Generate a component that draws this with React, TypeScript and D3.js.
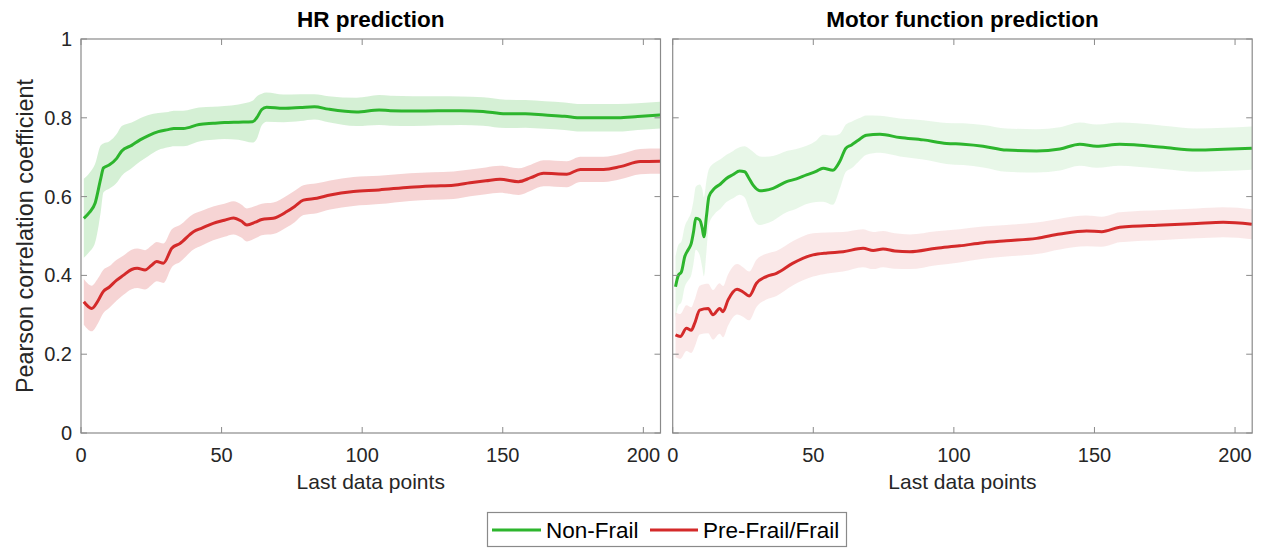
import React from "react";
import * as d3 from "d3";

// ---------- DATA ----------
const yTicks = [0, 0.2, 0.4, 0.6, 0.8, 1];
const xTicks = [0, 50, 100, 150, 200];
const titles = ["HR prediction", "Motor function prediction"];
const seriesNames = ["Non-Frail", "Pre-Frail/Frail"];

// HR prediction – Non-Frail
const hrNonFrailX = [1, 3, 5, 7, 8, 10, 12.7, 14.5, 18, 21, 24, 27.5, 31, 33, 36.4, 42, 47, 51, 56, 61, 62.5, 64.3, 66, 72, 78, 83, 88, 98, 106, 110, 118, 127, 135, 143, 151, 158, 165, 172, 178, 185, 191, 198, 206];
const hrNonFrailMean = [0.545, 0.56, 0.583, 0.645, 0.673, 0.68, 0.697, 0.716, 0.73, 0.744, 0.755, 0.765, 0.77, 0.773, 0.773, 0.783, 0.786, 0.788, 0.789, 0.79, 0.8, 0.821, 0.827, 0.824, 0.826, 0.828, 0.822, 0.815, 0.82, 0.818, 0.817, 0.818, 0.818, 0.816, 0.81, 0.81, 0.807, 0.804, 0.8, 0.8, 0.8, 0.803, 0.807];
const hrNonFrailHalf = [0.1, 0.1, 0.1, 0.085, 0.062, 0.06, 0.062, 0.063, 0.058, 0.055, 0.052, 0.047, 0.045, 0.045, 0.045, 0.043, 0.042, 0.042, 0.045, 0.053, 0.054, 0.04, 0.037, 0.035, 0.034, 0.032, 0.033, 0.036, 0.038, 0.038, 0.038, 0.037, 0.036, 0.036, 0.036, 0.035, 0.035, 0.035, 0.035, 0.035, 0.035, 0.034, 0.034];

// HR prediction – Pre-Frail/Frail
const hrFrailX = [1, 3.8, 6, 7.9, 10, 12.7, 15, 18, 20, 22.8, 25, 26.9, 29.3, 32.3, 35.2, 40, 43, 47, 51, 54.2, 57, 59, 62, 64.3, 68.4, 73.2, 76, 79.1, 83.9, 88.6, 96.9, 106, 117, 125, 132.5, 138.4, 144, 149, 155.6, 160, 164.5, 172.8, 177.6, 185.9, 191.8, 198.9, 206];
const hrFrailMean = [0.333, 0.316, 0.335, 0.359, 0.37, 0.388, 0.4, 0.415, 0.418, 0.414, 0.425, 0.435, 0.431, 0.469, 0.481, 0.511, 0.52, 0.532, 0.54, 0.546, 0.538, 0.528, 0.535, 0.542, 0.545, 0.562, 0.575, 0.591, 0.596, 0.604, 0.613, 0.617, 0.624, 0.627, 0.629, 0.635, 0.64, 0.644, 0.638, 0.648, 0.659, 0.657, 0.669, 0.669, 0.676, 0.689, 0.69];
const hrFrailHalf = [0.058, 0.058, 0.057, 0.055, 0.053, 0.052, 0.05, 0.05, 0.05, 0.05, 0.05, 0.05, 0.05, 0.048, 0.047, 0.045, 0.044, 0.043, 0.042, 0.042, 0.042, 0.042, 0.041, 0.04, 0.04, 0.04, 0.04, 0.038, 0.038, 0.037, 0.037, 0.036, 0.035, 0.035, 0.035, 0.034, 0.034, 0.034, 0.034, 0.033, 0.033, 0.033, 0.032, 0.032, 0.032, 0.032, 0.032];

// Motor function prediction – Non-Frail
const mfNonFrailX = [1, 2, 3.1, 4.3, 5.5, 6.6, 7.4, 8.2, 9.6, 10.5, 11.1, 12, 12.9, 14.9, 17, 19.1, 21.5, 23.8, 25.6, 27, 28.6, 31, 33, 35.7, 40.5, 44, 47.6, 51, 53.5, 57, 59.4, 61.6, 63.6, 66, 68.9, 73.7, 80.8, 89.1, 97.4, 103.3, 110.4, 118.7, 129.4, 137.7, 144.8, 150.8, 159, 165, 174.5, 186.4, 196, 206];
const mfNonFrailMean = [0.371, 0.4, 0.409, 0.448, 0.465, 0.481, 0.51, 0.545, 0.541, 0.52, 0.498, 0.55, 0.6, 0.621, 0.632, 0.646, 0.656, 0.665, 0.663, 0.648, 0.629, 0.615, 0.616, 0.621, 0.638, 0.645, 0.655, 0.664, 0.672, 0.667, 0.689, 0.723, 0.731, 0.743, 0.756, 0.758, 0.75, 0.744, 0.735, 0.733, 0.728, 0.718, 0.716, 0.721, 0.733, 0.728, 0.733, 0.731, 0.725, 0.718, 0.72, 0.723];
const mfNonFrailHalf = [0.077, 0.077, 0.077, 0.077, 0.078, 0.08, 0.08, 0.08, 0.09, 0.1, 0.1, 0.09, 0.07, 0.065, 0.063, 0.06, 0.06, 0.06, 0.065, 0.075, 0.085, 0.087, 0.085, 0.082, 0.078, 0.076, 0.074, 0.078, 0.085, 0.088, 0.07, 0.06, 0.059, 0.055, 0.05, 0.047, 0.048, 0.05, 0.052, 0.053, 0.054, 0.055, 0.055, 0.055, 0.055, 0.055, 0.055, 0.055, 0.055, 0.055, 0.055, 0.055];

// Motor function prediction – Pre-Frail/Frail
const mfFrailX = [1, 2.7, 4.9, 6.6, 7.8, 9.6, 12.6, 14.3, 16.7, 17.9, 19.7, 22.9, 25, 27.2, 29.8, 33.3, 36.9, 42.8, 49.9, 55, 60.6, 67.7, 71.3, 74.8, 79, 84.3, 93.8, 102, 110.4, 118.7, 129.4, 137.7, 147.2, 152.6, 159, 174.5, 186.4, 195.8, 206];
const mfFrailMean = [0.249, 0.245, 0.266, 0.261, 0.278, 0.312, 0.316, 0.3, 0.316, 0.308, 0.338, 0.365, 0.358, 0.348, 0.38, 0.397, 0.405, 0.431, 0.452, 0.457, 0.46, 0.469, 0.463, 0.467, 0.462, 0.46, 0.469, 0.475, 0.483, 0.488, 0.494, 0.505, 0.513, 0.511, 0.522, 0.528, 0.532, 0.535, 0.53];
const mfFrailHalf = [0.057, 0.057, 0.058, 0.058, 0.06, 0.062, 0.063, 0.063, 0.064, 0.065, 0.065, 0.064, 0.063, 0.062, 0.06, 0.058, 0.057, 0.056, 0.055, 0.052, 0.05, 0.048, 0.047, 0.046, 0.045, 0.044, 0.043, 0.042, 0.041, 0.04, 0.04, 0.039, 0.039, 0.038, 0.038, 0.038, 0.038, 0.038, 0.038];

// ---------- STYLE ----------
const GREEN = "#2db52d";
const RED = "#d42a2a";
const AXIS = "#8a8a8a";
const TEXT = "#262626";
const FONT = "Arial, 'Liberation Sans', Helvetica, sans-serif";

type Series = { x: number[]; m: number[]; h: number[]; color: string; bandOpacity: number };

const panels: { title: string; left: number; series: Series[] }[] = [
  {
    title: titles[0],
    left: 81,
    series: [
      { x: hrNonFrailX, m: hrNonFrailMean, h: hrNonFrailHalf, color: GREEN, bandOpacity: 0.2 },
      { x: hrFrailX, m: hrFrailMean, h: hrFrailHalf, color: RED, bandOpacity: 0.2 },
    ],
  },
  {
    title: titles[1],
    left: 672.7,
    series: [
      { x: mfNonFrailX, m: mfNonFrailMean, h: mfNonFrailHalf, color: GREEN, bandOpacity: 0.11 },
      { x: mfFrailX, m: mfFrailMean, h: mfFrailHalf, color: RED, bandOpacity: 0.11 },
    ],
  },
];

const PW = 579.5;
const TOP = 39;
const BOTTOM = 433;

function Panel({ p, idx }: { p: (typeof panels)[number]; idx: number }) {
  const x = d3.scaleLinear().domain([0, 206.1]).range([p.left, p.left + PW]);
  const y = d3.scaleLinear().domain([0, 1]).range([BOTTOM, TOP]);
  const clipId = `clip${idx}`;
  const cx = p.left + PW / 2;
  return (
    <g>
      <defs>
        <clipPath id={clipId}>
          <rect x={p.left} y={TOP} width={PW} height={BOTTOM - TOP} />
        </clipPath>
      </defs>
      <g clipPath={`url(#${clipId})`}>
        {p.series.map((s, i) => {
          const idxs = s.x.map((_, k) => k);
          const area = d3
            .area<number>()
            .x((k) => x(s.x[k]))
            .y0((k) => y(s.m[k] - s.h[k]))
            .y1((k) => y(s.m[k] + s.h[k]))
            .curve(d3.curveMonotoneX);
          return <path key={"a" + i} d={area(idxs) || ""} fill={s.color} fillOpacity={s.bandOpacity} stroke="none" />;
        })}
        {p.series.map((s, i) => {
          const idxs = s.x.map((_, k) => k);
          const line = d3
            .line<number>()
            .x((k) => x(s.x[k]))
            .y((k) => y(s.m[k]))
            .curve(d3.curveMonotoneX);
          return <path key={"l" + i} d={line(idxs) || ""} fill="none" stroke={s.color} strokeWidth={3} strokeLinejoin="round" />;
        })}
      </g>
      {/* box */}
      <rect x={p.left} y={TOP} width={PW} height={BOTTOM - TOP} fill="none" stroke={AXIS} strokeWidth={1.2} />
      {/* x ticks */}
      {xTicks.map((t) => (
        <g key={"xt" + t}>
          <line x1={x(t)} x2={x(t)} y1={BOTTOM} y2={BOTTOM - 6} stroke={AXIS} strokeWidth={1} />
          <line x1={x(t)} x2={x(t)} y1={TOP} y2={TOP + 6} stroke={AXIS} strokeWidth={1} />
          <text x={x(t)} y={462} textAnchor="middle" fontSize={20} fill={TEXT} fontFamily={FONT}>
            {t}
          </text>
        </g>
      ))}
      {/* y ticks */}
      {yTicks.map((t) => (
        <g key={"yt" + t}>
          <line x1={p.left} x2={p.left + 6} y1={y(t)} y2={y(t)} stroke={AXIS} strokeWidth={1} />
          <line x1={p.left + PW} x2={p.left + PW - 6} y1={y(t)} y2={y(t)} stroke={AXIS} strokeWidth={1} />
          {idx === 0 && (
            <text x={p.left - 9} y={y(t) + 7} textAnchor="end" fontSize={20} fill={TEXT} fontFamily={FONT}>
              {t}
            </text>
          )}
        </g>
      ))}
      <text x={cx} y={27} textAnchor="middle" fontSize={22.5} fontWeight="bold" fill="#000" fontFamily={FONT}>
        {p.title}
      </text>
      <text x={cx} y={489} textAnchor="middle" fontSize={21} fill={TEXT} fontFamily={FONT}>
        Last data points
      </text>
      {idx === 0 && (
        <text
          transform={`translate(33, ${(TOP + BOTTOM) / 2}) rotate(-90)`}
          textAnchor="middle"
          fontSize={23.4}
          fill={TEXT}
          fontFamily={FONT}
        >
          Pearson correlation coefficient
        </text>
      )}
    </g>
  );
}

export default function App() {
  return (
    <svg
      width={1262}
      height={548}
      style={{ position: "absolute", left: 0, top: 0, background: "#fff" }}
      xmlns="http://www.w3.org/2000/svg"
    >
      <rect width={1262} height={548} fill="#fff" />
      {panels.map((p, i) => (
        <Panel key={i} p={p} idx={i} />
      ))}
      {/* legend */}
      <g>
        <rect x={487.5} y={512.5} width={359} height={34} fill="#fff" stroke={AXIS} strokeWidth={1.2} />
        <line x1={492} x2={541} y1={530} y2={530} stroke={GREEN} strokeWidth={3} />
        <text x={546} y={538} fontSize={22.5} fill="#000" fontFamily={FONT}>
          {seriesNames[0]}
        </text>
        <line x1={650} x2={698} y1={530} y2={530} stroke={RED} strokeWidth={3} />
        <text x={703} y={538} fontSize={22.5} fill="#000" fontFamily={FONT}>
          {seriesNames[1]}
        </text>
      </g>
    </svg>
  );
}
